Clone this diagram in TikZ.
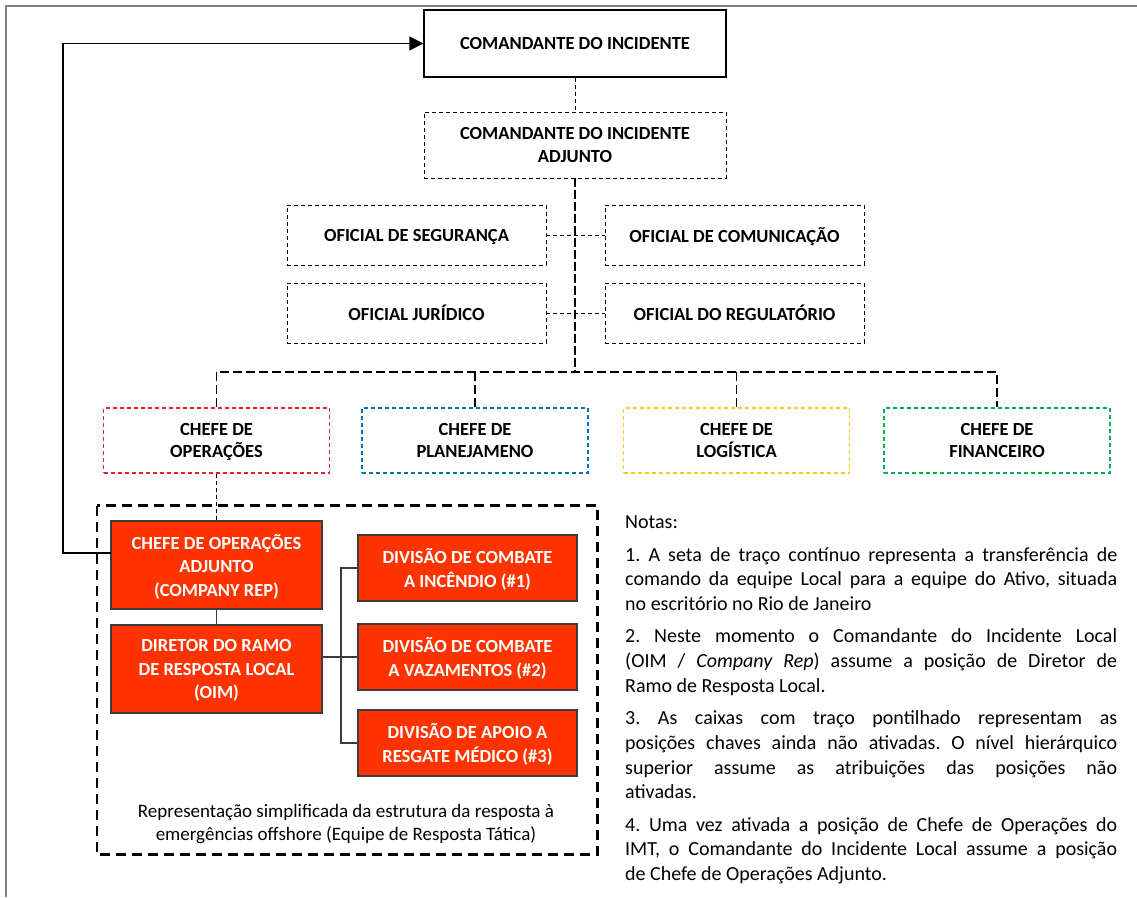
\documentclass[tikz,border=0pt]{standalone}
\usepackage{fontspec}
\setmainfont{Carlito}
\usetikzlibrary{arrows.meta}

\definecolor{opsred}{RGB}{255,51,0}
\definecolor{boxedge}{RGB}{60,60,60}
\definecolor{cRed}{RGB}{240,30,40}
\definecolor{cBlue}{RGB}{0,112,192}
\definecolor{cGold}{RGB}{255,200,30}
\definecolor{cGreen}{RGB}{0,176,80}
\definecolor{framegray}{RGB}{128,128,128}

\newcommand\lblfont{\fontsize{18.5}{23.5}\selectfont\bfseries}
\newcommand\chieffont{\fontsize{18.5}{22}\selectfont\bfseries}
\newcommand\notefont{\fontsize{20}{24.7}\selectfont}

\tikzset{
  boxtext/.style={inner sep=0pt, align=center, font=\lblfont, text depth=0pt},
  solidbox/.style={boxtext, draw=black, line width=1.3pt, minimum width=302pt, minimum height=67pt,
    text depth=-4pt},
  openbox/.style={boxtext, draw=black, line width=0.9pt, dash pattern=on 4pt off 3pt},
  chiefbox/.style={boxtext, font=\chieffont, text depth=-5pt, draw=#1, line width=1.1pt,
    dash pattern=on 4pt off 3pt, minimum width=226pt, minimum height=65pt},
  actbox/.style={boxtext, draw=boxedge, fill=opsred, line width=1.2pt, text=white},
  thinlink/.style={black, line width=0.9pt, dash pattern=on 4pt off 3pt},
  trunk/.style={black, line width=1.8pt, dash pattern=on 9pt off 3pt},
  buslink/.style={black, line width=1.2pt, dash pattern=on 9pt off 4pt},
  teamframe/.style={black, line width=2.4pt, dash pattern=on 10pt off 6pt},
  activelink/.style={boxedge, line width=1.2pt},
  handover/.style={black, line width=1.3pt, -{Triangle[length=14pt,width=14pt]}},
}

\begin{document}
\begin{tikzpicture}[x=1pt,y=-1pt]
\useasboundingbox (0,0) rectangle (1137,897);
\fill[white] (0,0) rectangle (1137,897);

% page frame
\draw[framegray, line width=2pt] (6,897) -- (6,5.5) -- (1137,5.5);

% command level
\node[solidbox] (ci) at (575,43.5) {COMANDANTE DO INCIDENTE};
\node[openbox, minimum width=302pt, minimum height=66pt] (adj) at (575,145)
  {COMANDANTE DO INCIDENTE\\ADJUNTO};

% command staff
\node[openbox, minimum width=259pt, minimum height=60pt] (seg) at (416.5,235) {OFICIAL DE SEGURANÇA};
\node[openbox, minimum width=259pt, minimum height=60pt] (com) at (734.5,235) {OFICIAL DE COMUNICAÇÃO};
\node[openbox, minimum width=259pt, minimum height=60pt] (jur) at (416.5,313) {OFICIAL JURÍDICO};
\node[openbox, minimum width=259pt, minimum height=60pt] (reg) at (734.5,313) {OFICIAL DO REGULATÓRIO};

% section chiefs
\node[chiefbox=cRed]   (ops)  at (216.5,440.5) {CHEFE DE\\OPERAÇÕES};
\node[chiefbox=cBlue]  (plan) at (475,440.5)   {CHEFE DE\\PLANEJAMENO};
\node[chiefbox=cGold]  (log)  at (736.5,440.5) {CHEFE DE\\LOGÍSTICA};
\node[chiefbox=cGreen] (fin)  at (997,440.5)   {CHEFE DE\\FINANCEIRO};

% tactical response team
\draw[teamframe] (97,505.5) rectangle (597.5,854.5);
\node[actbox, minimum width=211pt, minimum height=88pt] (opsadj) at (216.5,565)
  {CHEFE DE OPERAÇÕES\\ADJUNTO\\(COMPANY REP)};
\node[actbox, minimum width=211pt, minimum height=88pt] (dir) at (216.5,669)
  {DIRETOR DO RAMO\\DE RESPOSTA LOCAL\\(OIM)};
\node[actbox, minimum width=219pt, minimum height=66pt] (div1) at (467.5,568)
  {DIVISÃO DE COMBATE\\A INCÊNDIO (\#1)};
\node[actbox, minimum width=219pt, minimum height=66pt] (div2) at (467.5,657)
  {DIVISÃO DE COMBATE\\A VAZAMENTOS (\#2)};
\node[actbox, minimum width=219pt, minimum height=66pt] (div3) at (467.5,743)
  {DIVISÃO DE APOIO A\\RESGATE MÉDICO (\#3)};
\node[align=center, font=\fontsize{19}{23.5}\selectfont, inner sep=0pt] (caption) at (346,824)
  {Representação simplificada da estrutura da resposta à\\emergências offshore (Equipe de Resposta Tática)};

% connectors
\coordinate (trunkend) at (575,372);
\coordinate (divbus) at (341,657);
\draw[thinlink] (ci.south) -- (adj.north);
\draw[thinlink] (seg.east) -- (com.west);
\draw[thinlink] (jur.east) -- (reg.west);
\draw[trunk] (adj.south) -- (trunkend);
\draw[buslink] (ops.north) |- (trunkend) -| (fin.north);
\draw[buslink] (plan.north) -- (plan.north |- trunkend);
\draw[buslink] (log.north) -- (log.north |- trunkend);
\draw[thinlink] (ops.south) -- (opsadj.north);
\draw[activelink] (opsadj.south) -- (dir.north);
\draw[activelink] (div2.west) -- (div2.west -| dir.east);
\draw[activelink] (div1.west) -| (divbus) |- (div3.west);

% transfer of command
\coordinate (handoff) at (111,553);
\draw[handover] (handoff) -- ++(-48,0) |- (ci.west);

% notes
\node[anchor=north west, text width=492pt, inner sep=0pt, font=\notefont, align=justify] (notes) at (625,515)
{\parindent=0pt\hyphenpenalty=10000\tolerance=10000\frenchspacing
Notas:\par\vspace{8.5pt}
1. A seta de traço contínuo representa a transferência de\linebreak
comando da equipe Local para a equipe do Ativo, situada\linebreak
no escritório no Rio de Janeiro\par\vspace{7.6pt}
2. Neste momento o Comandante do Incidente Local\linebreak
(OIM / \textit{Company Rep}) assume a posição de Diretor de\linebreak
Ramo de Resposta Local.\par\vspace{7.6pt}
3. As caixas com traço pontilhado representam as\linebreak
posições chaves ainda não ativadas. O nível hierárquico\linebreak
superior assume as atribuições das posições não\linebreak
ativadas.\par\vspace{7.6pt}
4. Uma vez ativada a posição de Chefe de Operações do\linebreak
IMT, o Comandante do Incidente Local assume a posição\linebreak
de Chefe de Operações Adjunto.\par};
\end{tikzpicture}
\end{document}
